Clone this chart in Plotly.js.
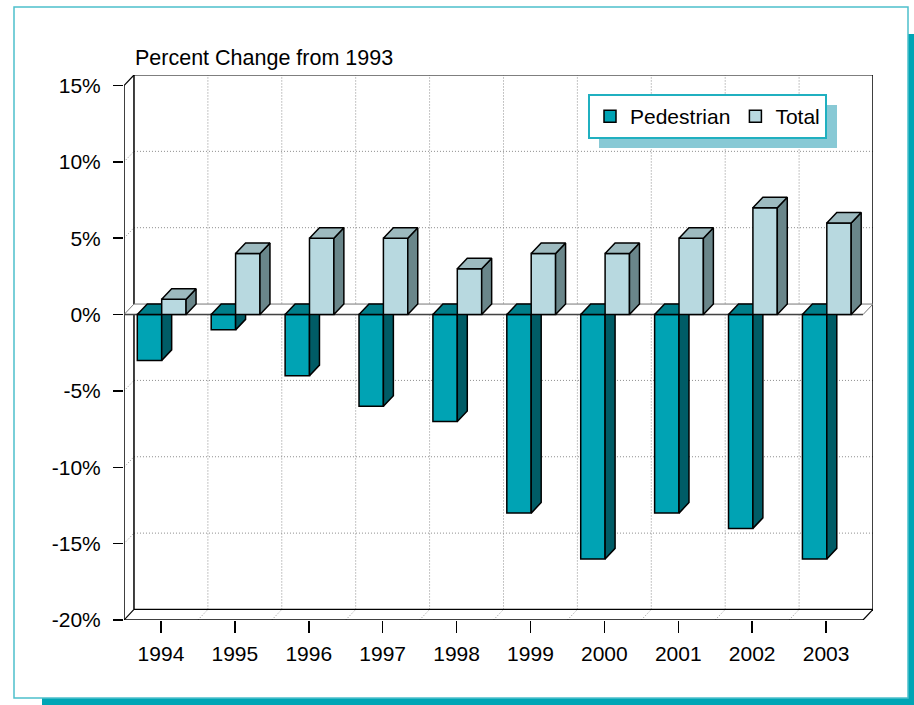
<!DOCTYPE html>
<html><head><meta charset="utf-8">
<script src="https://cdn.plot.ly/plotly-3.0.1.min.js"></script>
<style>html,body{margin:0;padding:0;background:#fff;overflow:hidden}</style>
</head><body><div id="chart" style="width:914px;height:705px"></div>
<script>
// ---- data ----
const years = ['1994','1995','1996','1997','1998','1999','2000','2001','2002','2003'];
const pedestrian = [-3,-1,-4,-6,-7,-13,-16,-13,-14,-16];
const total = [1,4,5,5,3,4,4,5,7,6];
const yTickVals = [-20,-15,-10,-5,0,5,10,15];
const yTickText = ['-20%','-15%','-10%','-5%','0%','5%','10%','15%'];
const chartTitle = 'Percent Change from 1993';

// ---- geometry / style ----
const W = 914, H = 705;
const L = 124, R = 873, T = 75, B = 620;      // plot area px
const DX = 0.135, DY = 0.69;                    // 3D depth in data units
const YMIN = -20, YMAX = 15;
const NC = years.length;
const xs = years.map((_, i) => i);
const FONT = '"Liberation Sans", Arial, sans-serif';
const PED = {front:'#00A3B4', side:'#005C66', top:'#007E8A'};
const TOT = {front:'#B8D9E0', side:'#6A868A', top:'#9DBABF'};
const PED_OFF = -0.32, TOT_OFF = 0.01, BW = 0.33;
const GRID = '#8c8c8c', GRID_DASH = '1px,2px';

const px2x = p => (p - L) / (R - L);
const px2y = p => (B - p) / (B - T);

function faces(vals, off, w, xa, ya, col) {
  const sx = [], sy = [], tx = [], ty = [];
  vals.forEach((v, i) => {
    const x0 = xs[i] + off, x1 = xs[i] + off + w;
    const top = Math.max(v, 0), bot = Math.min(v, 0);
    sx.push(x1, x1 + DX, x1 + DX, x1, x1, null);
    sy.push(bot, bot + DY, top + DY, top, bot, null);
    tx.push(x0, x1, x1 + DX, x0 + DX, x0, null);
    ty.push(top, top, top + DY, top + DY, top, null);
  });
  const base = {type:'scatter', mode:'lines', fill:'toself', showlegend:false,
    hoverinfo:'skip', xaxis:xa, yaxis:ya, line:{color:'#000', width:1.5}};
  return [Object.assign({}, base, {x:sx, y:sy, fillcolor:col.side}),
          Object.assign({}, base, {x:tx, y:ty, fillcolor:col.top})];
}

const traces = [
  {type:'bar', name:'Pedestrian', x:xs, y:pedestrian, offset:PED_OFF, width:BW,
   xaxis:'x', yaxis:'y', hoverinfo:'skip',
   marker:{color:PED.front, line:{color:'#000', width:1.5}}},
  ...faces(pedestrian, PED_OFF, BW, 'x', 'y', PED),
  {type:'bar', name:'Total', x:xs, y:total, offset:TOT_OFF, width:BW,
   xaxis:'x2', yaxis:'y2', hoverinfo:'skip',
   marker:{color:TOT.front, line:{color:'#000', width:1.5}}},
  ...faces(total, TOT_OFF, BW, 'x2', 'y2', TOT)
];

// ---- structural shapes ----
const shapes = [];
shapes.push({type:'rect', xref:'paper', yref:'paper', layer:'below',
  x0:px2x(42), x1:px2x(940), y0:px2y(730), y1:px2y(34),
  fillcolor:'#00A5B5', line:{width:0}});
shapes.push({type:'rect', xref:'paper', yref:'paper', layer:'below',
  x0:px2x(14), x1:px2x(908), y0:px2y(698), y1:px2y(7),
  fillcolor:'#ffffff', line:{color:'#4DC0CC', width:1.5}});
function ln(x0, y0, x1, y1, color, width, dash) {
  shapes.push({type:'line', xref:'x', yref:'y', layer:'below', x0, y0, x1, y1,
    line:{color, width, dash:dash || 'solid'}});
}
const XL = -0.5, XR = NC - 0.5;
yTickVals.forEach(v => {
  if (v > YMIN && v < YMAX && v !== 0) {
    ln(XL + DX, v + DY, XR + DX, v + DY, GRID, 1, GRID_DASH);
    ln(XL, v, XL + DX, v + DY, GRID, 1, GRID_DASH);
  }
});
for (let k = 0; k < NC - 1; k++) {
  ln(k + 0.5 + DX, YMIN + DY, k + 0.5 + DX, YMAX + DY, GRID, 1, GRID_DASH);
  ln(k + 0.5, YMIN, k + 0.5 + DX, YMIN + DY, GRID, 1, GRID_DASH);
}
ln(XL + DX, YMAX + DY, XR + DX, YMAX + DY, '#555', 1.5);
ln(XL + DX, YMIN + DY, XL + DX, YMAX + DY, '#000', 1.5);
ln(XR + DX, YMIN + DY, XR + DX, YMAX + DY, '#000', 1.5);
ln(XL, YMAX, XL + DX, YMAX + DY, '#000', 1.2);
ln(XL + DX, YMIN + DY, XR + DX, YMIN + DY, '#000', 1.2);
ln(XL, YMIN, XL + DX, YMIN + DY, '#000', 1.2);
ln(XR, YMIN, XR + DX, YMIN + DY, '#000', 1.2);
ln(XL, YMIN, XR, YMIN, '#000', 1.5);
ln(XL, YMIN, XL, YMAX, '#000', 1.5);
shapes.push({type:'path', xref:'x', yref:'y', layer:'below',
  path:`M${XL},0 L${XR},0 L${XR + DX},${DY} L${XL + DX},${DY} Z`,
  fillcolor:'#ffffff', line:{color:'#777', width:1}});
ln(XL, 0, XR, 0, '#444', 1.5);
// legend drop shadow (offset from legend box)
shapes.push({type:'rect', xref:'paper', yref:'paper', layer:'above',
  x0:px2x(599), x1:px2x(837), y0:px2y(148), y1:px2y(105),
  fillcolor:'#88C9D5', line:{width:0}});

const layout = {
  width:W, height:H,
  margin:{l:L, r:W - R, t:T, b:H - B, pad:0},
  paper_bgcolor:'rgba(0,0,0,0)', plot_bgcolor:'rgba(0,0,0,0)',
  font:{family:FONT, size:21, color:'#000'},
  barmode:'overlay',
  showlegend:true,
  legend:{orientation:'h', x:px2x(588), y:px2y(94), xanchor:'left', yanchor:'top',
    bgcolor:'#ffffff', bordercolor:'#20B0C0', borderwidth:2,
    font:{family:FONT, size:21, color:'#000'}, itemwidth:30, traceorder:'normal'},
  xaxis:{range:[XL, XR + DX], tickvals:xs, ticktext:years, ticks:'outside', ticklen:12,
    tickwidth:1.5, tickcolor:'#000', showgrid:false, zeroline:false, showline:false,
    ticklabelstandoff:3, fixedrange:true, tickfont:{size:21}},
  yaxis:{range:[YMIN, YMAX + DY], tickvals:yTickVals, ticktext:yTickText, ticks:'outside',
    ticklen:10, tickwidth:1.5, tickcolor:'#000', showgrid:false, zeroline:false,
    showline:false, ticklabelstandoff:8, fixedrange:true, tickfont:{size:21}},
  xaxis2:{range:[XL, XR + DX], overlaying:'x', anchor:'y2', visible:false, fixedrange:true},
  yaxis2:{range:[YMIN, YMAX + DY], overlaying:'y', anchor:'x2', visible:false, fixedrange:true},
  shapes,
  annotations:[{text:chartTitle, xref:'paper', yref:'paper', x:px2x(133), y:px2y(58),
    xanchor:'left', yanchor:'middle', showarrow:false, font:{family:FONT, size:21.5, color:'#000'}}]
};

Plotly.newPlot('chart', traces, layout, {displayModeBar:false, staticPlot:true});
</script></body></html>
